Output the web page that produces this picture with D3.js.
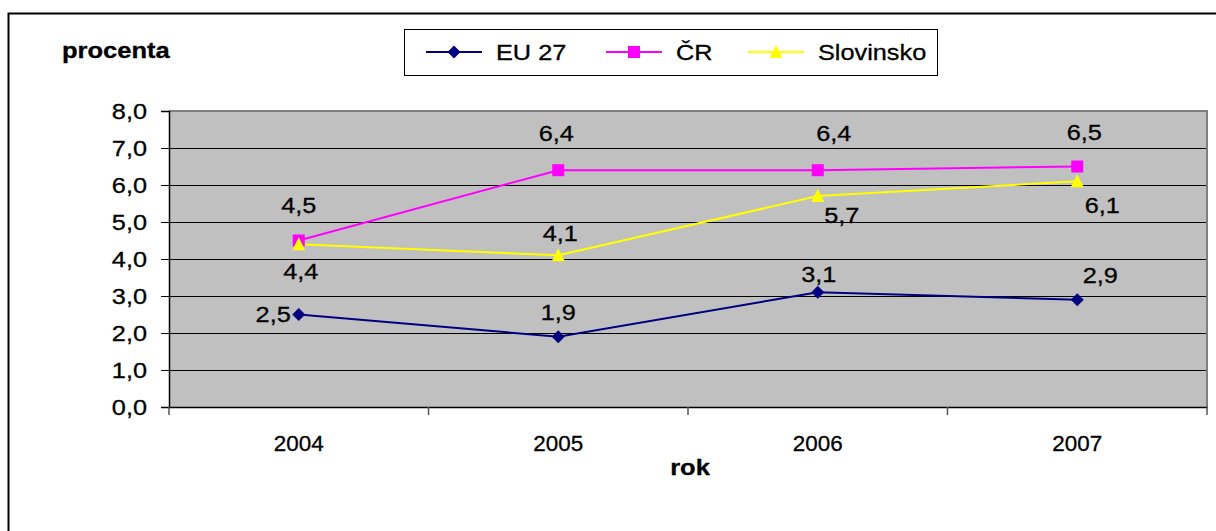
<!DOCTYPE html>
<html>
<head>
<meta charset="utf-8">
<script src="https://cdn.jsdelivr.net/npm/d3@7"></script>
<style>
  body { margin: 0; background: #fff; }
  text { font-family: "Liberation Sans", Arial, sans-serif; fill: #000; stroke: #000; stroke-width: 0.3px; }
</style>
</head>
<body>
<div id="chart"></div>
<script>
const years = ["2004", "2005", "2006", "2007"];
const eu27 = [2.5, 1.9, 3.1, 2.9];
const cr = [4.5, 6.4, 6.4, 6.5];
const slovinsko = [4.4, 4.1, 5.7, 6.1];
const yTicks = [0, 1, 2, 3, 4, 5, 6, 7, 8];

// where each data label sits relative to its point (dragged by hand in the original)
const euLabelPos = [[-8, 0, "end"], [0, -24], [1, -18], [23, -24]];
const crLabelPos = [[0, -35], [-2, -37], [16, -37], [7, -34]];
const slLabelPos = [[2, 27], [2, -22], [24, 19], [25, 24]];

const width = 1216, height = 531;
const sx = 1.15; // the original is stretched sideways

const svg = d3.select("#chart").append("svg")
    .attr("width", width)
    .attr("height", height);

function label(g, x, y, str, opts) {
    opts = opts || {};
    return g.append("text")
        .attr("transform", `translate(${x},${y}) scale(${opts.sx || sx},1)`)
        .attr("text-anchor", opts.anchor || "middle")
        .attr("dy", "0.35em")
        .style("font-size", (opts.size || 22) + "px")
        .style("font-weight", opts.bold ? "bold" : null)
        .text(str);
}

// outer frame
svg.append("rect")
    .attr("x", 8.5).attr("y", 13.5)
    .attr("width", 1240).attr("height", 560)
    .attr("fill", "#fff")
    .attr("stroke", "#000")
    .attr("stroke-width", 2);

const x = d3.scaleBand().domain(years).range([169, 1207]);
const y = d3.scaleLinear().domain([0, 8]).range([407, 111]);

// plot area
svg.append("rect")
    .attr("x", x.range()[0]).attr("y", y(8))
    .attr("width", x.range()[1] - x.range()[0])
    .attr("height", y(0) - y(8))
    .attr("fill", "#c0c0c0");

svg.append("g").selectAll("line")
    .data(yTicks.filter(d => d > 0 && d < 8))
    .join("line")
    .attr("x1", x.range()[0]).attr("x2", x.range()[1])
    .attr("y1", d => Math.round(y(d)) + 0.5).attr("y2", d => Math.round(y(d)) + 0.5)
    .attr("stroke", "#000");

// gray top/right border
svg.append("path")
    .attr("d", `M${x.range()[0]},${y(8)}H${x.range()[1]}V${y(0)}`)
    .attr("fill", "none")
    .attr("stroke", "#808080")
    .attr("stroke-width", 2);

// y axis
const yAxis = svg.append("g")
    .attr("transform", `translate(${x.range()[0]},0)`)
    .call(d3.axisLeft(y).tickValues(yTicks).tickSize(8).tickPadding(0)
        .tickFormat(d => d.toFixed(1).replace(".", ",")));
yAxis.select(".domain").attr("stroke", "#000").attr("stroke-width", 1.5);
yAxis.selectAll(".tick line").attr("stroke", "#000");
yAxis.selectAll(".tick text")
    .attr("x", null)
    .attr("dy", "0.35em")
    .attr("transform", `translate(-22,0) scale(${sx},1)`)
    .style("font-size", "22px")
    .style("font-family", null);

// x axis (labels at band centres, ticks on band edges)
const xAxis = svg.append("g")
    .attr("transform", `translate(0,${y(0)})`)
    .call(d3.axisBottom(x).tickSize(0).tickPadding(0));
xAxis.select(".domain").attr("stroke", "#000").attr("stroke-width", 1.5);
xAxis.selectAll(".tick text")
    .attr("y", null)
    .attr("dy", "0.35em")
    .attr("transform", `translate(0,36) scale(1.02,1)`)
    .style("font-size", "22px")
    .style("font-family", null);
const edges = years.map(d => x(d)).concat([x.range()[1]]);
svg.append("g").selectAll("line")
    .data(edges)
    .join("line")
    .attr("x1", d => d).attr("x2", d => d)
    .attr("y1", y(0)).attr("y2", y(0) + 8)
    .attr("stroke", "#555")
    .attr("stroke-width", 1.5);

label(svg, 62, 50, "procenta", { anchor: "start", bold: true, size: 22, sx: 1.16 });
label(svg, 690, 467, "rok", { bold: true, size: 22, sx: 1.16 });

const markers = {
    diamond: "M0,-6.5L6.5,0L0,6.5L-6.5,0Z",
    square: "M-6,-6H6V6H-6Z",
    triangle: "M0,-7L6.5,6H-6.5Z"
};

const series = [
    { name: "EU 27", values: eu27, color: "#000080", marker: "diamond", pos: euLabelPos },
    { name: "ČR", values: cr, color: "#ff00ff", marker: "square", pos: crLabelPos },
    { name: "Slovinsko", values: slovinsko, color: "#ffff00", marker: "triangle", pos: slLabelPos }
];

const cx = d => x(d) + x.bandwidth() / 2;
const line = d3.line().x((v, i) => cx(years[i])).y(v => y(v));

series.forEach(s => {
    svg.append("path")
        .attr("d", line(s.values))
        .attr("fill", "none")
        .attr("stroke", s.color)
        .attr("stroke-width", 2);
});
series.forEach(s => {
    svg.append("g").selectAll("path")
        .data(s.values)
        .join("path")
        .attr("transform", (v, i) => `translate(${cx(years[i])},${y(v)})`)
        .attr("d", markers[s.marker])
        .attr("fill", s.color);
});
series.forEach(s => {
    s.values.forEach((v, i) => {
        const p = s.pos[i];
        label(svg, cx(years[i]) + p[0], y(v) + p[1],
            v.toFixed(1).replace(".", ","), { anchor: p[2] || "middle" });
    });
});

// legend
const legend = svg.append("g");
legend.append("rect")
    .attr("x", 404.5).attr("y", 29.5)
    .attr("width", 533).attr("height", 46)
    .attr("fill", "#fff")
    .attr("stroke", "#000");
const legendX = [426, 606, 748];
series.forEach((s, i) => {
    const lx = legendX[i];
    legend.append("line")
        .attr("x1", lx).attr("x2", lx + 56)
        .attr("y1", 52).attr("y2", 52)
        .attr("stroke", s.color)
        .attr("stroke-width", 2);
    legend.append("path")
        .attr("transform", `translate(${lx + 28},52)`)
        .attr("d", markers[s.marker])
        .attr("fill", s.color);
    label(legend, lx + 70, 52, s.name, { anchor: "start" });
});
</script>
</body>
</html>
